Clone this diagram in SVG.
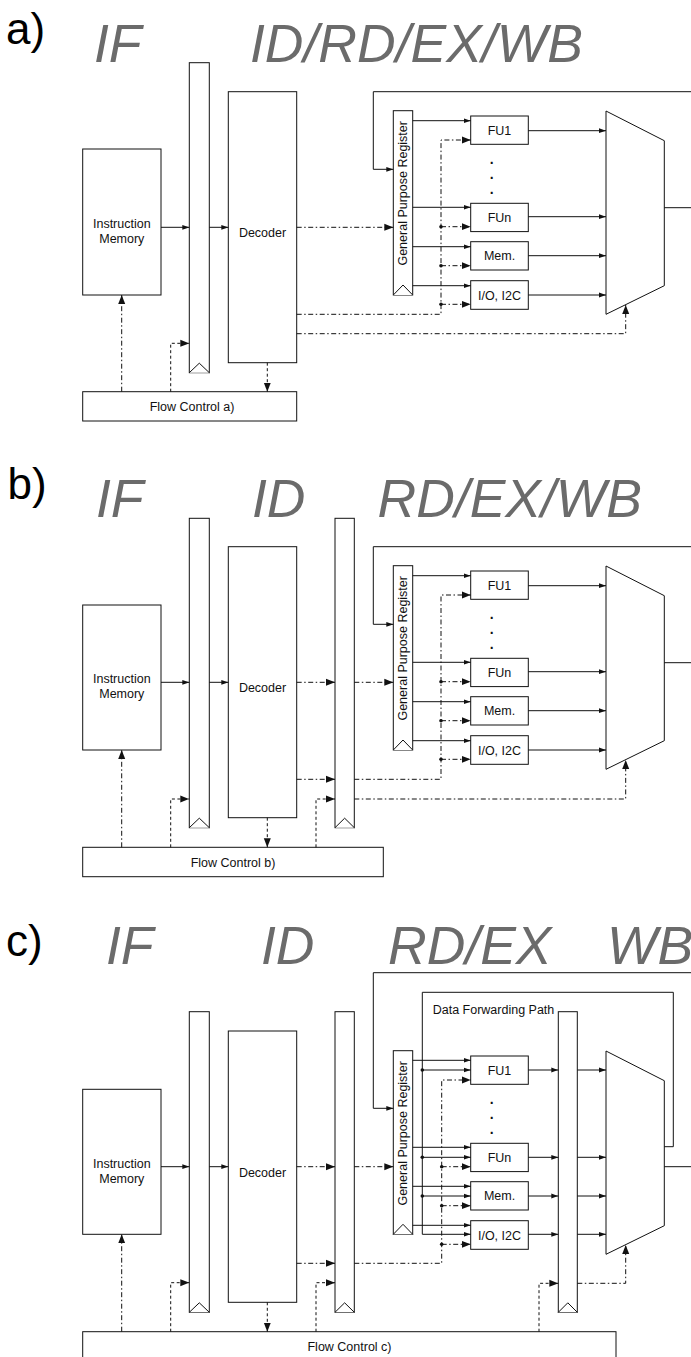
<svg xmlns="http://www.w3.org/2000/svg" width="691" height="1357" viewBox="0 0 691 1357">
<style>
.n{fill:#fff;stroke:#111;stroke-width:1}
.c{fill:none;stroke:#111;stroke-width:1}
.dd{stroke-dasharray:5 2.5 1.5 2.5}
.da{stroke-dasharray:3 2.5}
.t{font-family:"Liberation Sans",Arial,sans-serif;font-size:12.5px;fill:#111;text-anchor:middle}
.p{font-family:"Liberation Sans",Arial,sans-serif;font-size:14px;font-weight:bold;fill:#111;text-anchor:middle}
.h{font-family:"Liberation Sans",Arial,sans-serif;font-style:italic;font-size:53.5px;fill:#6b6b6b}
.l{font-family:"Liberation Sans",Arial,sans-serif;font-size:44px;fill:#000}
.j{fill:#111}
</style>
<defs>
<marker id="s" markerWidth="7" markerHeight="6" refX="7" refY="3" orient="auto" markerUnits="userSpaceOnUse"><path d="M0,0.6 L7,3 L0,5.4 z" fill="#111"/></marker>
<marker id="b" markerWidth="9" markerHeight="8" refX="9" refY="4" orient="auto" markerUnits="userSpaceOnUse"><path d="M0,0.5 L9,4 L0,7.5 z" fill="#111"/></marker>
</defs>

<g id="titles">
<text class="l" x="6" y="44.4">a)</text>
<text class="h" x="94" y="61.7">IF</text>
<text class="h" x="250" y="61.7">ID/RD/EX/WB</text>
<text class="l" x="7.5" y="499">b)</text>
<text class="h" x="96" y="517.3">IF</text>
<text class="h" x="252" y="517.3">ID</text>
<text class="h" x="377.5" y="517.3">RD/EX/WB</text>
<text class="l" x="6" y="956">c)</text>
<text class="h" x="106" y="964">IF</text>
<text class="h" x="261" y="964">ID</text>
<text class="h" x="388" y="964">RD/EX</text>
<text class="h" x="607" y="964">WB</text>
</g>

<!-- Panel a nodes -->
<g id="a-imem"><rect class="n" x="82.7" y="149" width="78.3" height="146"/><text class="t" x="121.8" y="227.8">Instruction</text><text class="t" x="121.8" y="242.8">Memory</text></g>
<g id="a-reg1"><rect class="n" x="189.3" y="62.7" width="20" height="310"/><path class="n" d="M189.3,372.7 L199.3,363.2 L209.3,372.7"/></g>
<g id="a-dec"><rect class="n" x="228.3" y="91.7" width="68.4" height="271"/><text class="t" x="262.5" y="237">Decoder</text></g>
<g id="a-fc"><rect class="n" x="82.7" y="391.7" width="214" height="29.3"/><text class="t" x="192" y="411">Flow Control a)</text></g>
<g id="a-gpr"><rect class="n" x="393.3" y="110.7" width="19.4" height="184.3"/><path class="n" d="M393.3,295 L403,285 L412.7,295"/><text class="t" transform="translate(407,193.3) rotate(-90)">General Purpose Register</text></g>
<g id="a-fu1"><rect class="n" x="470.7" y="116" width="57.6" height="28.3"/><text class="t" x="499.5" y="134.7">FU1</text></g>
<g id="a-dots"><text class="p" x="491.7" y="164">.</text><text class="p" x="491.7" y="179">.</text><text class="p" x="491.7" y="194">.</text></g>
<g id="a-fun"><rect class="n" x="470.7" y="203.3" width="57.6" height="28.3"/><text class="t" x="499.5" y="222">FUn</text></g>
<g id="a-mem"><rect class="n" x="470.7" y="241.7" width="57.6" height="28.3"/><text class="t" x="499.5" y="260.3">Mem.</text></g>
<g id="a-io"><rect class="n" x="470.7" y="280.7" width="57.6" height="28.6"/><text class="t" x="499.5" y="299.5">I/O, I2C</text></g>
<g id="a-mux"><polygon class="n" points="606,111 664.3,140.7 664.3,285.7 606,314.3"/></g>

<!-- Panel b nodes -->
<g id="b-imem"><rect class="n" x="82.7" y="605" width="78.3" height="145"/><text class="t" x="121.8" y="683.3">Instruction</text><text class="t" x="121.8" y="698.3">Memory</text></g>
<g id="b-reg1"><rect class="n" x="189.3" y="518.3" width="20" height="309.4"/><path class="n" d="M189.3,827.7 L199.3,818.2 L209.3,827.7"/></g>
<g id="b-dec"><rect class="n" x="228.3" y="546.7" width="68.4" height="271"/><text class="t" x="262.5" y="692">Decoder</text></g>
<g id="b-reg2"><rect class="n" x="335" y="518.3" width="19.3" height="309.4"/><path class="n" d="M335,827.7 L344.65,818.2 L354.3,827.7"/></g>
<g id="b-fc"><rect class="n" x="82.7" y="847.3" width="300.6" height="29.4"/><text class="t" x="233" y="866.5">Flow Control b)</text></g>
<g id="b-gpr"><rect class="n" x="393.3" y="565.7" width="19.4" height="184.3"/><path class="n" d="M393.3,750 L403,740 L412.7,750"/><text class="t" transform="translate(407,648.3) rotate(-90)">General Purpose Register</text></g>
<g id="b-fu1"><rect class="n" x="470.7" y="571" width="57.6" height="28.3"/><text class="t" x="499.5" y="589.7">FU1</text></g>
<g id="b-dots"><text class="p" x="491.7" y="619">.</text><text class="p" x="491.7" y="634">.</text><text class="p" x="491.7" y="649">.</text></g>
<g id="b-fun"><rect class="n" x="470.7" y="658.3" width="57.6" height="28.3"/><text class="t" x="499.5" y="677">FUn</text></g>
<g id="b-mem"><rect class="n" x="470.7" y="696.7" width="57.6" height="28.3"/><text class="t" x="499.5" y="715.3">Mem.</text></g>
<g id="b-io"><rect class="n" x="470.7" y="735.7" width="57.6" height="28.6"/><text class="t" x="499.5" y="754.5">I/O, I2C</text></g>
<g id="b-mux"><polygon class="n" points="606,566 664.3,595.7 664.3,740.7 606,769.3"/></g>

<!-- Panel c nodes -->
<g id="c-imem"><rect class="n" x="82.7" y="1089.3" width="78.3" height="145"/><text class="t" x="121.8" y="1167.8">Instruction</text><text class="t" x="121.8" y="1182.8">Memory</text></g>
<g id="c-reg1"><rect class="n" x="189.3" y="1011.7" width="20" height="300.6"/><path class="n" d="M189.3,1312.3 L199.3,1302.8 L209.3,1312.3"/></g>
<g id="c-dec"><rect class="n" x="228.3" y="1031" width="68.4" height="271.3"/><text class="t" x="262.5" y="1177.2">Decoder</text></g>
<g id="c-reg2"><rect class="n" x="335" y="1011.7" width="19.3" height="300.6"/><path class="n" d="M335,1312.3 L344.65,1302.8 L354.3,1312.3"/></g>
<g id="c-reg3"><rect class="n" x="558.3" y="1011.7" width="19" height="300.6"/><path class="n" d="M558.3,1312.3 L567.8,1302.8 L577.3,1312.3"/></g>
<g id="c-fc"><rect class="n" x="82.7" y="1331.7" width="533.3" height="30"/><text class="t" x="349.5" y="1351">Flow Control c)</text></g>
<g id="c-gpr"><rect class="n" x="393.3" y="1050.7" width="19.4" height="183.6"/><path class="n" d="M393.3,1234.3 L403,1224.3 L412.7,1234.3"/><text class="t" transform="translate(407,1133.3) rotate(-90)">General Purpose Register</text></g>
<g id="c-fu1"><rect class="n" x="470.7" y="1056" width="57.6" height="28.3"/><text class="t" x="499.5" y="1074.7">FU1</text></g>
<g id="c-dots"><text class="p" x="491.7" y="1104">.</text><text class="p" x="491.7" y="1119">.</text><text class="p" x="491.7" y="1134">.</text></g>
<g id="c-fun"><rect class="n" x="470.7" y="1143.3" width="57.6" height="28.3"/><text class="t" x="499.5" y="1162">FUn</text></g>
<g id="c-mem"><rect class="n" x="470.7" y="1181.7" width="57.6" height="28.3"/><text class="t" x="499.5" y="1200.3">Mem.</text></g>
<g id="c-io"><rect class="n" x="470.7" y="1220.7" width="57.6" height="28.6"/><text class="t" x="499.5" y="1239.5">I/O, I2C</text></g>
<g id="c-mux"><polygon class="n" points="606,1051 664.3,1080.7 664.3,1225.7 606,1254.3"/></g>

<g id="connectors">
<!-- panel a -->
<g class="c" marker-end="url(#s)">
<path d="M161,227.3 H189.3"/><path d="M209.3,227.3 H228.3"/>
<path d="M691,91.7 H373.3 V169.3 H393.3"/>
<path d="M412.7,120.7 H470.7"/><path d="M412.7,207.3 H470.7"/><path d="M412.7,246.7 H470.7"/><path d="M412.7,285.7 H470.7"/>
<path d="M528.3,130.7 H606"/><path d="M528.3,216.7 H606"/><path d="M528.3,255.7 H606"/><path d="M528.3,295 H606"/>
</g>
<path class="c" d="M664.3,207.7 H691"/>
<g class="c dd" marker-end="url(#b)">
<path d="M296.7,227.3 H393.3"/>
<path d="M296.7,314.3 H441 V140 H470.7"/>
<path d="M441,226.7 H470.7"/><path d="M441,265.7 H470.7"/><path d="M441,304.3 H470.7"/>
<path d="M296.7,333.7 H625.7 V305"/>
<path d="M121.7,391.7 V295"/>
</g>
<g class="c da" marker-end="url(#b)">
<path d="M170.7,391.7 V343.3 H189.3"/>
<path d="M267.3,362.7 V391.7"/>
</g>
<g class="j"><circle cx="441" cy="226.7" r="1.8"/><circle cx="441" cy="265.7" r="1.8"/><circle cx="441" cy="304.3" r="1.8"/></g>

<!-- panel b -->
<g class="c" marker-end="url(#s)">
<path d="M161,682.3 H189.3"/><path d="M209.3,682.3 H228.3"/>
<path d="M691,546.7 H373.3 V624.3 H393.3"/>
<path d="M412.7,575.7 H470.7"/><path d="M412.7,662.3 H470.7"/><path d="M412.7,701.7 H470.7"/><path d="M412.7,740.7 H470.7"/>
<path d="M528.3,585.7 H606"/><path d="M528.3,671.7 H606"/><path d="M528.3,710.7 H606"/><path d="M528.3,750 H606"/>
</g>
<path class="c" d="M664.3,662.7 H691"/>
<g class="c dd" marker-end="url(#b)">
<path d="M296.7,682.3 H335"/><path d="M354.3,682.3 H393.3"/>
<path d="M296.7,779.3 H335"/>
<path d="M354.3,779.3 H441 V595 H470.7"/>
<path d="M441,681.7 H470.7"/><path d="M441,720.7 H470.7"/><path d="M441,759.3 H470.7"/>
<path d="M354.3,799 H625.7 V760"/>
<path d="M121.7,847.3 V750"/>
</g>
<g class="c da" marker-end="url(#b)">
<path d="M170.7,847.3 V799 H189.3"/>
<path d="M316,847.3 V799 H335"/>
<path d="M267.3,817.7 V847.3"/>
</g>
<g class="j"><circle cx="441" cy="681.7" r="1.8"/><circle cx="441" cy="720.7" r="1.8"/><circle cx="441" cy="759.3" r="1.8"/></g>

<!-- panel c -->
<g class="c" marker-end="url(#s)">
<path d="M161,1166.7 H189.3"/><path d="M209.3,1166.7 H228.3"/>
<path d="M691,972.7 H373.3 V1108.3 H393.3"/>
<path d="M412.7,1060.3 H470.7"/><path d="M412.7,1147.3 H470.7"/><path d="M412.7,1186.3 H470.7"/><path d="M412.7,1225.3 H470.7"/>
<path d="M664.3,1146.7 H673.3 V992.3 H422.3 V1234.3 H470.7"/>
<path d="M422.3,1070 H470.7"/><path d="M422.3,1157.3 H470.7"/><path d="M422.3,1196 H470.7"/>
<path d="M528.3,1070 H558.3"/><path d="M528.3,1157.3 H558.3"/><path d="M528.3,1196 H558.3"/><path d="M528.3,1234.3 H558.3"/>
<path d="M577.3,1070 H606"/><path d="M577.3,1157.3 H606"/><path d="M577.3,1196 H606"/><path d="M577.3,1234.3 H606"/>
</g>
<path class="c" d="M664.3,1166.7 H691"/>
<g class="c dd" marker-end="url(#b)">
<path d="M296.7,1166.7 H335"/><path d="M354.3,1166.7 H393.3"/>
<path d="M296.7,1263.3 H335"/>
<path d="M354.3,1263.3 H441.7 V1080 H470.7"/>
<path d="M441.7,1166.7 H470.7"/><path d="M441.7,1205.7 H470.7"/><path d="M441.7,1244.3 H470.7"/>
<path d="M577.3,1283.3 H625.7 V1245"/>
<path d="M121.7,1331.7 V1234.3"/>
</g>
<g class="c da" marker-end="url(#b)">
<path d="M170.7,1331.7 V1282.7 H189.3"/>
<path d="M316,1331.7 V1282.7 H335"/>
<path d="M539,1331.7 V1283.3 H558.3"/>
<path d="M267.3,1302.3 V1331.7"/>
</g>
<g class="j"><circle cx="441.7" cy="1166.7" r="1.8"/><circle cx="441.7" cy="1205.7" r="1.8"/><circle cx="441.7" cy="1244.3" r="1.8"/><circle cx="422.3" cy="1070" r="1.8"/><circle cx="422.3" cy="1157.3" r="1.8"/><circle cx="422.3" cy="1196" r="1.8"/></g>
<text class="t" x="432.7" y="1013.5" style="text-anchor:start">Data Forwarding Path</text>
</g>
</svg>
